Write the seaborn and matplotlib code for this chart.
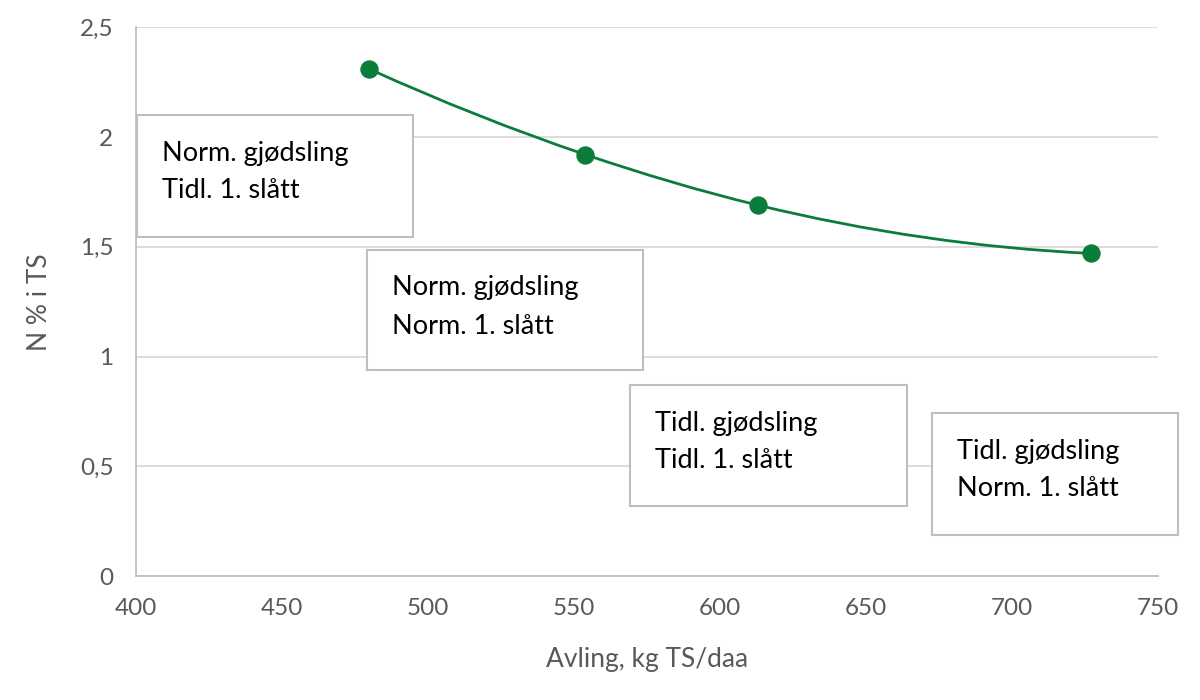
import pandas as pd
import numpy as np
import seaborn as sns
import matplotlib.pyplot as plt
from matplotlib.path import Path
from matplotlib.patches import PathPatch, Rectangle

sns.set_theme(style="whitegrid")
plt.rcParams['font.family'] = ['Lato', 'DejaVu Sans']

# Data
avling = [480, 554, 613, 727]
n_prosent = [2.31, 1.92, 1.69, 1.47]
y_ticks = [0, 0.5, 1, 1.5, 2, 2.5]
y_ticklabels = ['0', '0,5', '1', '1,5', '2', '2,5']
x_ticks = [400, 450, 500, 550, 600, 650, 700, 750]
boks_tekster = [
    "Norm. gjødsling\nTidl. 1. slått",
    "Norm. gjødsling\nNorm. 1. slått",
    "Tidl. gjødsling\nTidl. 1. slått",
    "Tidl. gjødsling\nNorm. 1. slått",
]

df = pd.DataFrame({'Avling': avling, 'N': n_prosent})
gronn = '#0b7d3b'
graa = '#595959'

fig = plt.figure(figsize=(12, 7), dpi=100)
ax = fig.add_axes([0.113, 0.177, 0.852, 0.784])

# Glatt linje gjennom punktene (kubisk Hermite tegnet som Bezier)
x = np.array(avling, dtype=float)
y = np.array(n_prosent, dtype=float)
n = len(x)
d = np.zeros(n)
for i in range(1, n - 1):
    h0, h1 = x[i] - x[i - 1], x[i + 1] - x[i]
    s0, s1 = (y[i] - y[i - 1]) / h0, (y[i + 1] - y[i]) / h1
    d[i] = (h1 * s0 + h0 * s1) / (h0 + h1)
d[0] = 2 * (y[1] - y[0]) / (x[1] - x[0]) - d[1]
d[-1] = 2 * (y[-1] - y[-2]) / (x[-1] - x[-2]) - d[-2]
verts = [(x[0], y[0])]
codes = [Path.MOVETO]
for i in range(n - 1):
    h = x[i + 1] - x[i]
    verts += [(x[i] + h / 3, y[i] + d[i] * h / 3),
              (x[i + 1] - h / 3, y[i + 1] - d[i + 1] * h / 3),
              (x[i + 1], y[i + 1])]
    codes += [Path.CURVE4] * 3
ax.add_patch(PathPatch(Path(verts, codes), facecolor='none', edgecolor=gronn,
                       lw=2.0, zorder=3))

sns.scatterplot(data=df, x='Avling', y='N', ax=ax, color=gronn, s=150,
                edgecolor=gronn, zorder=4, legend=False)

ax.set_xlim(400, 750)
ax.set_ylim(0, 2.5)
ax.set_xticks(x_ticks)
ax.set_yticks(y_ticks)
ax.set_yticklabels(y_ticklabels)
ax.tick_params(axis='both', labelsize=17.5, colors=graa, length=0)
ax.tick_params(axis='x', pad=16)
ax.tick_params(axis='y', pad=16)
ax.grid(axis='y', color='#d9d9d9', lw=1.3)
ax.grid(axis='x', visible=False)
for side in ['top', 'right']:
    ax.spines[side].set_visible(False)
for side in ['left', 'bottom']:
    ax.spines[side].set_color('#bfbfbf')
    ax.spines[side].set_linewidth(1.3)
ax.set_facecolor('white')

ax.set_xlabel("Avling, kg TS/daa", fontsize=19, color=graa, labelpad=20)
ax.set_ylabel("N % i TS", fontsize=19, color=graa, labelpad=20)

# Tekstbokser (figurkoordinater i piksler)
bokser = [(137, 115, 276, 122), (367, 250, 276, 120),
          (630, 385, 277, 121), (932, 413, 246, 122)]
W, H = 1200, 700
for (x0, y0, w, h), tekst in zip(bokser, boks_tekster):
    fig.add_artist(Rectangle((x0 / W, 1 - (y0 + h) / H), w / W, h / H,
                             transform=fig.transFigure, facecolor='white',
                             edgecolor='#bfbfbf', lw=1.5, zorder=5))
    fig.text((x0 + 25) / W, 1 - (y0 + 57) / H, tekst, fontsize=19.5,
             color='black', va='center', ha='left', linespacing=1.65,
             zorder=6)

fig.savefig('out.png', dpi=100, facecolor='white')
